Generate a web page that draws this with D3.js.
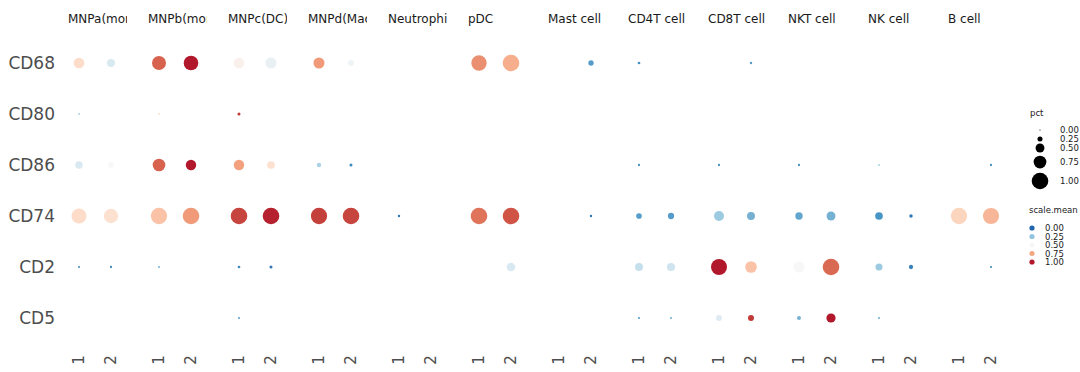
<!DOCTYPE html>
<html>
<head>
<script src="https://d3js.org/d3.v7.min.js"></script>
<style>
  body { margin: 0; background: #fff; }
  text { font-family: "DejaVu Sans", sans-serif; }
</style>
</head>
<body>
<div id="chart"></div>
<script>
// cell types (facets), samples within each, genes (rows)
const groups = ["MNPa(mono)", "MNPb(mono)", "MNPc(DC)", "MNPd(Macro)", "Neutrophil", "pDC",
  "Mast cell", "CD4T cell", "CD8T cell", "NKT cell", "NK cell", "B cell"];
const samples = ["1", "2"];
const genes = ["CD68", "CD80", "CD86", "CD74", "CD2", "CD5"];

// pct expressed, one value per group x sample (null = no dot)
const pctCD68 = [0.62,0.44, 0.83,0.87, 0.61,0.64, 0.64,0.31, null,null, 0.92,1.0, null,0.27, 0.1,null, null,0.08, null,null, null,null, null,null];
const pctCD80 = [0.05,null, 0.04,null, 0.12,null, null,null, null,null, null,null, null,null, null,null, null,null, null,null, null,null, null,null];
const pctCD86 = [0.4,0.29, 0.74,0.6, 0.6,0.42, 0.21,0.12, null,null, null,null, null,null, 0.07,null, 0.07,null, 0.07,null, 0.05,null, null,0.07];
const pctCD74 = [0.9,0.86, 0.98,1.0, 1.0,1.0, 0.98,1.0, 0.08,null, 1.0,1.0, null,0.08, 0.29,0.33, 0.57,0.44, 0.4,0.5, 0.42,0.15, 0.98,0.97];
const pctCD2  = [0.05,0.07, 0.05,null, 0.1,0.12, null,null, null,null, null,0.48, null,null, 0.44,0.45, 0.96,0.68, 0.64,1.0, 0.38,0.2, null,0.06];
const pctCD5  = [null,null, null,null, 0.05,null, null,null, null,null, null,null, null,null, 0.06,0.06, 0.31,0.31, 0.18,0.52, 0.06,null, null,null];

// scaled mean expression
const meanCD68 = [0.62,0.4, 0.87,1.0, 0.53,0.45, 0.77,0.47, null,null, 0.79,0.73, null,0.15, 0.12,null, null,0.15, null,null, null,null, null,null];
const meanCD80 = [0.3,null, 0.6,null, 0.95,null, null,null, null,null, null,null, null,null, null,null, null,null, null,null, null,null, null,null];
const meanCD86 = [0.4,0.5, 0.87,1.0, 0.76,0.6, 0.3,0.1, null,null, null,null, null,null, 0.12,null, 0.12,null, 0.12,null, 0.3,null, null,0.12];
const meanCD74 = [0.62,0.6, 0.68,0.77, 0.93,0.99, 0.94,0.93, 0.05,null, 0.84,0.9, null,0.05, 0.15,0.15, 0.27,0.2, 0.17,0.2, 0.13,0.05, 0.64,0.71];
const meanCD2  = [0.1,0.1, 0.2,null, 0.1,0.05, null,null, null,null, null,0.4, null,null, 0.35,0.37, 1.0,0.68, 0.5,0.86, 0.27,0.08, null,0.1];
const meanCD5  = [null,null, null,null, 0.15,null, null,null, null,null, null,null, null,null, 0.15,0.2, 0.42,0.95, 0.2,1.0, 0.2,null, null,null];

const pctLegend = [0, 0.25, 0.5, 0.75, 1];
const meanLegend = [0, 0.25, 0.5, 0.75, 1];

const pctByGene = { CD68: pctCD68, CD80: pctCD80, CD86: pctCD86, CD74: pctCD74, CD2: pctCD2, CD5: pctCD5 };
const meanByGene = { CD68: meanCD68, CD80: meanCD80, CD86: meanCD86, CD74: meanCD74, CD2: meanCD2, CD5: meanCD5 };

const width = 1080, height = 372;

const svg = d3.select("#chart").append("svg")
  .attr("width", width)
  .attr("height", height);

const xGroup = d3.scaleBand().domain(groups).range([55, 1015]);
const xSample = d3.scalePoint().domain(samples).range([-16, 16]);
const y = d3.scalePoint().domain(genes).range([63, 318]);

const rScale = d3.scaleLinear().domain([0, 1]).range([0.6, 8.3]).clamp(true);
const colorScale = d3.scaleLinear()
  .domain(d3.range(9).map(i => i / 8))
  .range(["#2166AC", "#4393C3", "#92C5DE", "#D1E5F0", "#F7F7F7", "#FDDBC7", "#F4A582", "#D6604D", "#B2182B"])
  .interpolate(d3.interpolateLab)
  .clamp(true);

const cx = (g, s) => xGroup(g) + xGroup.bandwidth() / 2 + xSample(s);

// flatten to points
const points = [];
genes.forEach(gene => {
  groups.forEach((g, gi) => {
    samples.forEach((s, si) => {
      const k = gi * 2 + si;
      const p = pctByGene[gene][k];
      if (p != null) points.push({ gene, group: g, sample: s, pct: p, mean: meanByGene[gene][k] });
    });
  });
});

// strip labels (clipped to panel)
const defs = svg.append("defs");
groups.forEach((g, i) => {
  const c = xGroup(g) + xGroup.bandwidth() / 2;
  defs.append("clipPath").attr("id", "clip" + i)
    .append("rect").attr("x", c - 30).attr("y", 0).attr("width", 62).attr("height", 40);
  svg.append("text")
    .attr("clip-path", `url(#clip${i})`)
    .attr("x", c - 27)
    .attr("y", 23)
    .attr("font-size", 12)
    .attr("fill", "#1a1a1a")
    .text(g);
});

// y labels
svg.selectAll(".ylab")
  .data(genes)
  .join("text")
  .attr("class", "ylab")
  .attr("x", 55)
  .attr("y", d => y(d))
  .attr("dy", "0.36em")
  .attr("text-anchor", "end")
  .attr("font-size", 17)
  .attr("fill", "#4d4d4d")
  .text(d => d);

// x tick labels, rotated
groups.forEach(g => {
  samples.forEach(s => {
    svg.append("text")
      .attr("transform", `translate(${cx(g, s)},${360}) rotate(-90)`)
      .attr("text-anchor", "middle")
      .attr("dy", "0.36em")
      .attr("font-size", 15)
      .attr("fill", "#4d4d4d")
      .text(s);
  });
});

// dots
svg.selectAll(".dot")
  .data(points)
  .join("circle")
  .attr("class", "dot")
  .attr("cx", d => cx(d.group, d.sample))
  .attr("cy", d => y(d.gene))
  .attr("r", d => rScale(d.pct))
  .attr("fill", d => colorScale(d.mean));

// legend: pct
const legPct = svg.append("g");
legPct.append("text").attr("x", 1030).attr("y", 116).attr("font-size", 8.5).attr("fill", "#1a1a1a").text("pct");
const pctY = [130, 139, 148, 162, 181];
legPct.selectAll("circle")
  .data(pctLegend)
  .join("circle")
  .attr("cx", 1040)
  .attr("cy", (d, i) => pctY[i])
  .attr("r", d => rScale(d))
  .attr("fill", "#000");
legPct.selectAll(".lab")
  .data(pctLegend)
  .join("text")
  .attr("class", "lab")
  .attr("x", 1060)
  .attr("y", (d, i) => pctY[i])
  .attr("dy", "0.36em")
  .attr("font-size", 8.5)
  .attr("fill", "#1a1a1a")
  .text(d => d.toFixed(2));

// legend: scale.mean
const legMean = svg.append("g");
legMean.append("text").attr("x", 1029).attr("y", 213).attr("font-size", 8.5).attr("fill", "#1a1a1a").text("scale.mean");
legMean.selectAll("circle")
  .data(meanLegend)
  .join("circle")
  .attr("cx", 1032)
  .attr("cy", (d, i) => 228 + i * 8.5)
  .attr("r", 2.6)
  .attr("fill", d => colorScale(d));
legMean.selectAll(".lab")
  .data(meanLegend)
  .join("text")
  .attr("class", "lab")
  .attr("x", 1045)
  .attr("y", (d, i) => 228 + i * 8.5)
  .attr("dy", "0.36em")
  .attr("font-size", 8.5)
  .attr("fill", "#1a1a1a")
  .text(d => d.toFixed(2));
</script>
</body>
</html>
